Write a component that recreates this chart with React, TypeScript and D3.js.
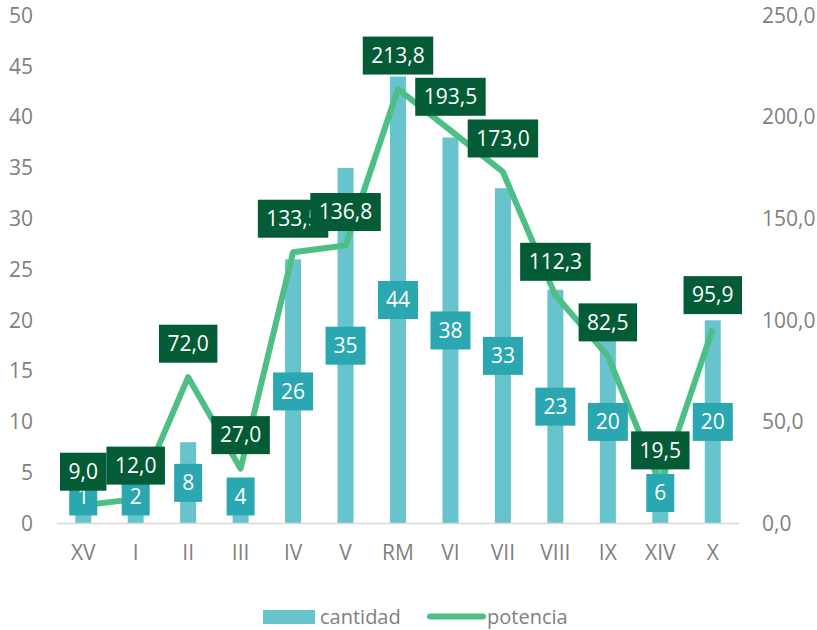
import { useMemo } from "react";
import * as d3 from "d3";

const categories = ["XV", "I", "II", "III", "IV", "V", "RM", "VI", "VII", "VIII", "IX", "XIV", "X"];
const cantidad = [1, 2, 8, 4, 26, 35, 44, 38, 33, 23, 20, 6, 20];
const potencia = [9.0, 12.0, 72.0, 27.0, 133.5, 136.8, 213.8, 193.5, 173.0, 112.3, 82.5, 19.5, 95.9];
const leftTicks = [0, 5, 10, 15, 20, 25, 30, 35, 40, 45, 50];
const rightTicks = [0, 50, 100, 150, 200, 250];

const W = 817;
const H = 630;
const FONT = "'Open Sans', 'Noto Sans', sans-serif";
const BAR = "#67c4cc";
const BAR_LABEL = "#2aa7b0";
const LINE = "#4dbf85";
const LINE_LABEL = "#035c36";
const AXIS_TEXT = "#7f7f7f";

const fmt1 = (v: number) => v.toFixed(1).replace(".", ",");

let ctx: CanvasRenderingContext2D | null = null;
const textWidth = (s: string, size: number) => {
  if (!ctx) ctx = document.createElement("canvas").getContext("2d");
  if (!ctx) return s.length * size * 0.55;
  ctx.font = `${size}px ${FONT}`;
  return ctx.measureText(s).width;
};

export default function App() {
  const x = useMemo(
    () => d3.scaleBand<string>().domain(categories).range([57, 739]).padding(0),
    [],
  );
  const yL = useMemo(() => d3.scaleLinear().domain([0, 50]).range([523.5, 15.5]), []);
  const yR = useMemo(() => d3.scaleLinear().domain([0, 250]).range([523.5, 15.5]), []);

  const cx = (c: string) => (x(c) ?? 0) + x.bandwidth() / 2;
  const barW = 16;
  const boxH = 38;
  const fs = 21;

  const lineGen = d3
    .line<number>()
    .x((_, i) => cx(categories[i]))
    .y((d) => yR(d));

  return (
    <svg
      width={W}
      height={H}
      style={{ position: "absolute", left: 0, top: 0, background: "#fff" }}
      fontFamily={FONT}
    >
      {/* bars */}
      {cantidad.map((v, i) => (
        <rect
          key={`b${i}`}
          x={cx(categories[i]) - barW / 2}
          y={yL(v)}
          width={barW}
          height={yL(0) - yL(v)}
          fill={BAR}
        />
      ))}

      {/* axis line */}
      <line x1={57} x2={739} y1={yL(0)} y2={yL(0)} stroke="#d9d9d9" strokeWidth={1.5} />

      {/* left ticks */}
      {leftTicks.map((t) => (
        <text key={`l${t}`} x={33} y={yL(t)} dy="0.35em" textAnchor="end" fontSize={fs} fill={AXIS_TEXT}>
          {t}
        </text>
      ))}
      {/* right ticks */}
      {rightTicks.map((t) => (
        <text key={`r${t}`} x={762} y={yR(t)} dy="0.35em" textAnchor="start" fontSize={fs} fill={AXIS_TEXT}>
          {fmt1(t)}
        </text>
      ))}
      {/* categories */}
      {categories.map((c) => (
        <text key={`c${c}`} x={cx(c)} y={553} dy="0.35em" textAnchor="middle" fontSize={fs} fill={AXIS_TEXT}>
          {c}
        </text>
      ))}

      {/* line */}
      <path d={lineGen(potencia) ?? ""} fill="none" stroke={LINE} strokeWidth={6} strokeLinejoin="round" />

      {/* bar labels */}
      {cantidad.map((v, i) => {
        const s = String(v);
        const w = textWidth(s, fs) + 16;
        const cy = Math.min((yL(v) + yL(0)) / 2, yL(0) - 8 - boxH / 2);
        const px = cx(categories[i]);
        return (
          <g key={`bl${i}`}>
            <rect x={px - w / 2} y={cy - boxH / 2} width={w} height={boxH} fill={BAR_LABEL} />
            <text x={px} y={cy} dy="0.35em" textAnchor="middle" fontSize={fs} fill="#fff">
              {s}
            </text>
          </g>
        );
      })}

      {/* line labels */}
      {potencia.map((v, i) => {
        const s = fmt1(v);
        const w = textWidth(s, fs) + 17;
        const cy = yR(v) - 33.5;
        const px = cx(categories[i]);
        return (
          <g key={`pl${i}`}>
            <rect x={px - w / 2} y={cy - boxH / 2} width={w} height={boxH} fill={LINE_LABEL} />
            <text x={px} y={cy} dy="0.35em" textAnchor="middle" fontSize={fs} fill="#fff">
              {s}
            </text>
          </g>
        );
      })}

      {/* legend */}
      <rect x={263} y={610} width={52} height={14} fill={BAR} />
      <text x={320} y={617} dy="0.35em" fontSize={20} fill={AXIS_TEXT}>
        cantidad
      </text>
      <line x1={430} x2={483} y1={616.5} y2={616.5} stroke={LINE} strokeWidth={6} strokeLinecap="round" />
      <text x={487} y={617} dy="0.35em" fontSize={20} fill={AXIS_TEXT}>
        potencia
      </text>
    </svg>
  );
}
